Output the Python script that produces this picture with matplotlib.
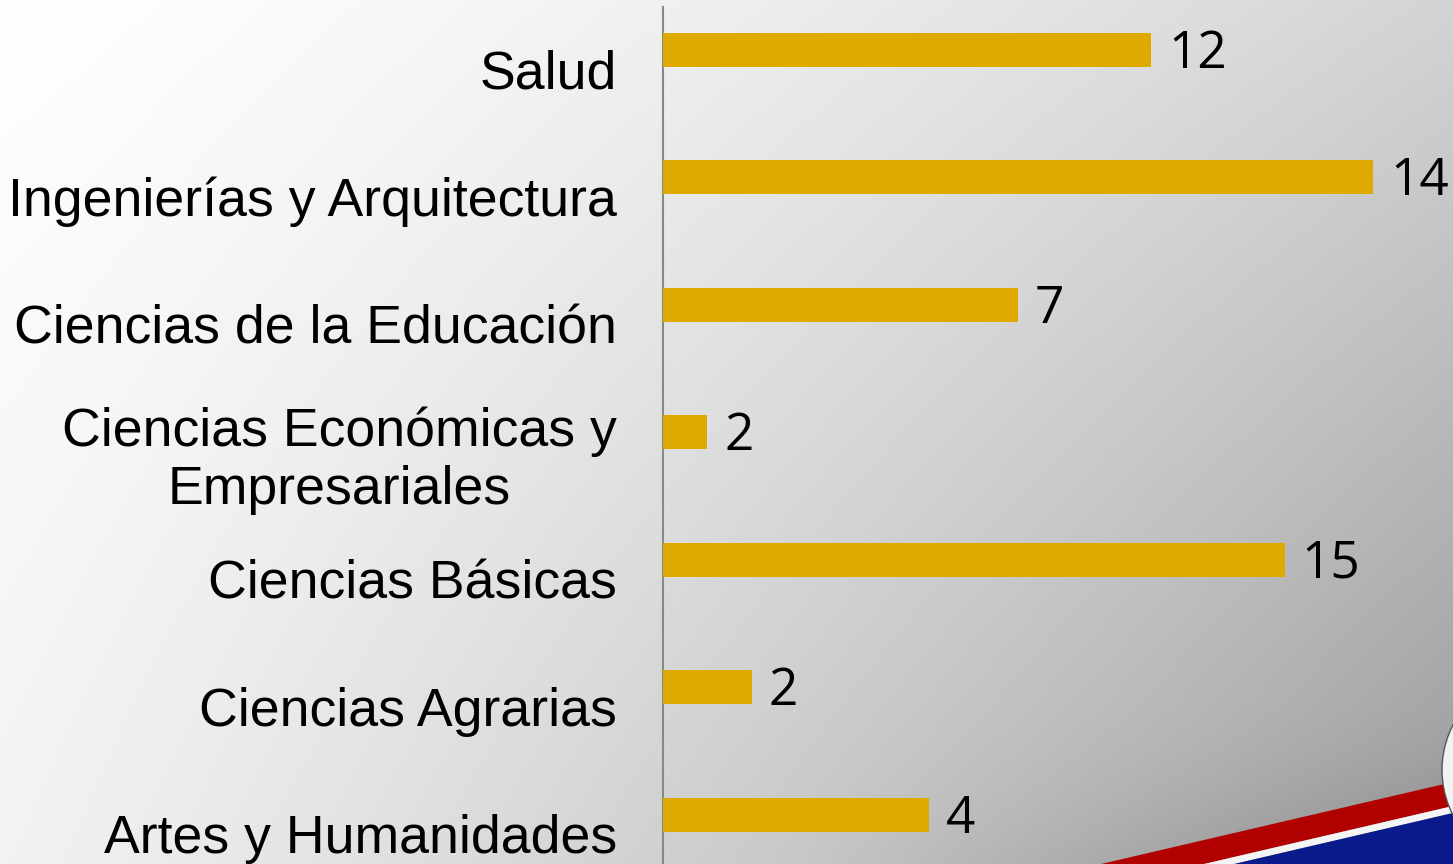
import numpy as np
import matplotlib
matplotlib.use("Agg")
import matplotlib.pyplot as plt
from matplotlib.patches import Polygon, Circle

categories = [
    "Salud",
    "Ingenierías y Arquitectura",
    "Ciencias de la Educación",
    "Ciencias Económicas y\nEmpresariales",
    "Ciencias Básicas",
    "Ciencias Agrarias",
    "Artes y Humanidades",
]
bar_values = [11, 16, 8, 1, 14, 2, 6]
value_labels = ["12", "14", "7", "2", "15", "2", "4"]

BAR_COLOR = "#DEAA00"

W, H = 1453, 864
fig = plt.figure(figsize=(W / 100, H / 100), dpi=100)

# background gradient
bg = fig.add_axes([0, 0, 1, 1], zorder=-10)
xx, yy = np.meshgrid(np.linspace(0, 1, 400), np.linspace(0, 1, 240))
g = 1 - 0.17 * xx ** 1.4 - 0.05 * yy - 0.17 * xx * yy
# darker shadow just above the swoosh
g -= 0.08 * np.clip((yy - 0.8) / 0.2, 0, 1) ** 2 * np.clip((xx - 0.55) / 0.45, 0, 1)
g = np.clip(g, 0, 1)
bg.imshow(np.dstack([g, g, g]), extent=[0, 1, 0, 1], origin="upper",
          aspect="auto", interpolation="bilinear")
bg.set_xlim(0, 1)
bg.set_ylim(0, 1)
bg.axis("off")

# decorative swoosh (bottom right), pixel coords measured from the top
def px(x, y):
    return (x / W, 1 - y / H)

slope = 0.233
def band(y_at_1453, x0=900):
    return y_at_1453 + slope * (1453 - x0)

red = Polygon([px(900, band(782)), px(1453, 782), px(1453, 806), px(900, band(806))],
              closed=True, facecolor="#B00000", edgecolor="none")
white = Polygon([px(900, band(806)), px(1453, 806), px(1453, 813), px(900, band(813))],
                closed=True, facecolor="#F4F4F4", edgecolor="none")
blue = Polygon([px(900, band(813)), px(1453, 813), px(1453, 880), px(900, 880)],
               closed=True, facecolor="#0A1A8C", edgecolor="none")
for p in (red, white, blue):
    p.set_transform(bg.transAxes)
    bg.add_patch(p)
cx, cy = px(1540, 770)
seal = Circle((cx * W, cy * H), 98, transform=bg.transData, facecolor="#F2F2F2",
              edgecolor="#555555", lw=1.0)
bg.set_xlim(0, 1)
# use a pixel-based transform for the circle so it stays round
from matplotlib.transforms import Affine2D
seal.set_transform(Affine2D().scale(1.0) + fig.dpi_scale_trans.inverted() + fig.dpi_scale_trans)
seal = Circle((1540, H - 770), 98, facecolor="#F2F2F2", edgecolor="#555555", lw=1.0,
              transform=Affine2D().scale(1 / W, 1 / H) + bg.transAxes)
bg.add_patch(seal)

# main chart
left_px, top_px = 663, 7
ax = fig.add_axes([left_px / W, 0, (W - left_px) / W, (H - top_px) / H])
ax.patch.set_alpha(0)

unit_px = 44.4
ax.set_xlim(0, (W - left_px) / unit_px)
spacing = 127.5
first_center = 50
ax.set_ylim((H - first_center) / spacing, -(first_center - top_px) / spacing)

y = np.arange(len(categories))
ax.barh(y, bar_values, height=34 / spacing, color=BAR_COLOR, zorder=3)

for yi, v, lab in zip(y, bar_values, value_labels):
    ax.annotate(lab, xy=(v, yi), xytext=(12, -3), textcoords="offset points",
                ha="left", va="center", fontsize=37, family="Open Sans", color="black")

ax.set_yticks(y + 19 / spacing)
ax.set_yticklabels(categories, fontsize=38.6, family="Liberation Sans", color="black")
for t in ax.get_yticklabels():
    t.set_multialignment("center")
ax.tick_params(axis="y", length=0, pad=33)
ax.set_xticks([])
for s in ("top", "right", "bottom"):
    ax.spines[s].set_visible(False)
ax.spines["left"].set_color("#888888")
ax.spines["left"].set_linewidth(1.5)

fig.savefig("out.png", dpi=100)
